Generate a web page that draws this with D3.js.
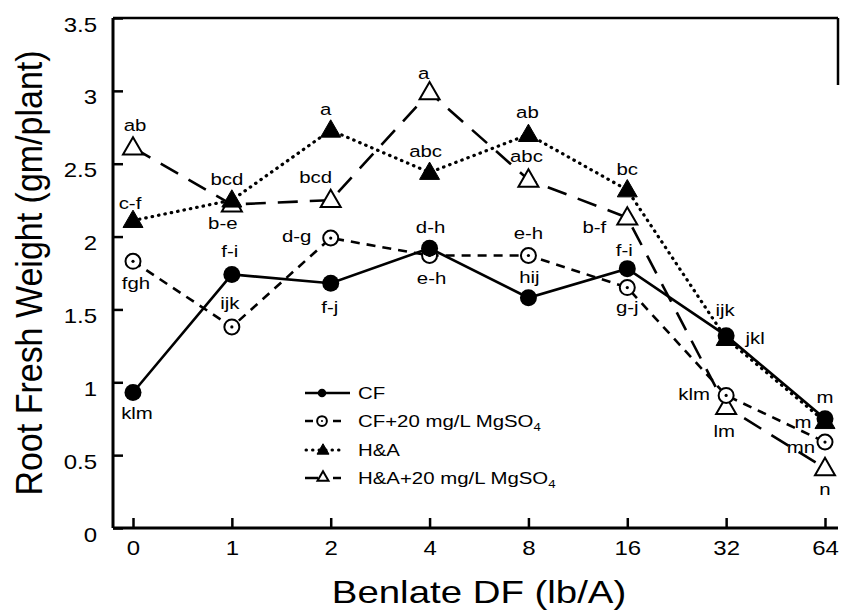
<!DOCTYPE html>
<html><head><meta charset="utf-8">
<script src="https://cdn.jsdelivr.net/npm/d3@7"></script>
<style>
body{margin:0;background:#fff;}
svg{display:block;font-family:"Liberation Sans",Arial,Helvetica,sans-serif;}
</style></head>
<body><svg id="c" width="841" height="615"></svg>
<script>
// ---- data ----
const categories = ["0","1","2","4","8","16","32","64"];
const yTicks = [0,0.5,1,1.5,2,2.5,3,3.5];
const cf      = [0.93,1.74,1.68,1.92,1.58,1.78,1.32,0.75];
const cfMg    = [1.83,1.38,1.99,1.87,1.87,1.65,0.91,0.59];
const ha      = [2.11,2.25,2.73,2.44,2.70,2.32,1.30,0.73];
const haMg    = [2.61,2.22,2.25,2.99,2.39,2.13,0.83,0.41];
const cfLetters   = ["klm","f-i","f-j","d-h","hij","f-i","jkl","m"];
const cfMgLetters = ["fgh","ijk","d-g","e-h","e-h","g-j","klm","mn"];
const haLetters   = ["c-f","bcd","a","abc","ab","bc","ijk","m"];
const haMgLetters = ["ab","b-e","bcd","a","abc","b-f","lm","n"];
const seriesNames = ["CF","CF+20 mg/L MgSO","H&A","H&A+20 mg/L MgSO"];

// ---- label placement (offsets from marker) ----
const cfOff   = [[4,27],[-2,-17],[-1,30],[1,-15],[1,-15],[-3,-13],[29,8],[0,-16]];
const cfMgOff = [[3,28],[-2,-18],[-34,4],[2,28],[0,-17],[0,25],[-32,5],[-24,11]];
const haOff   = [[-3,-12],[-5,-15],[-5,-15],[-4,-15],[-1,-17],[0,-15],[-1,-23],[-22,6]];
const haMgOff = [[2,-17],[-9,24],[-15,-17],[-6,-13],[-2,-18],[-33,15],[-2,30],[0,27]];

const SX = 1.2; // horizontal stretch of the glyphs in the reference
const svg = d3.select("#c");
const L=113, R=838, T=18, B=528;
const x = d3.scalePoint().domain(categories).range([133,825]);
const y = d3.scaleLinear().domain([0,3.5]).range([B,T]);

// frame
svg.append("line").attr("x1",L).attr("x2",R).attr("y1",T).attr("y2",T).attr("stroke","#000").attr("stroke-width",2.5);
svg.append("line").attr("x1",R).attr("x2",R).attr("y1",T).attr("y2",85).attr("stroke","#000").attr("stroke-width",2.5);

// axes
const ya = svg.append("g").attr("transform",`translate(${L},0)`)
  .call(d3.axisLeft(y).tickValues(yTicks).tickFormat(d3.format("")).tickSizeInner(-10).tickSizeOuter(0).tickPadding(16));
const xa = svg.append("g").attr("transform",`translate(0,${B})`)
  .call(d3.axisBottom(x).tickSizeInner(-10).tickSizeOuter(0).tickPadding(13));
[ya,xa].forEach(g=>{
  g.select(".domain").attr("stroke","#000").attr("stroke-width",3);
  g.selectAll(".tick line").attr("stroke","#000").attr("stroke-width",2.5);
  g.selectAll(".tick text").attr("fill","#000").attr("font-size",20).attr("font-family","Liberation Sans, Arial, sans-serif");
});
ya.selectAll(".tick text").attr("dy","0.65em").each(function(){
  const t=d3.select(this); const xx=+t.attr("x")||0;
  t.attr("x",0).attr("transform",`translate(${xx},0) scale(${SX},1)`);
});
xa.selectAll(".tick text").each(function(){
  const t=d3.select(this); const yy=+t.attr("y")||0;
  t.attr("y",0).attr("transform",`translate(0,${yy}) scale(${SX},1)`);
});
ya.select(".domain").attr("d",`M0,${B}V${T}`);
xa.select(".domain").attr("d",`M${L},0H${R}`);

// titles
svg.append("text").attr("x",0).attr("y",0)
  .attr("transform",`translate(42,273) rotate(-90) scale(1,1.08)`)
  .attr("text-anchor","middle").attr("font-size",34).attr("fill","#000")
  .text("Root Fresh Weight (gm/plant)");
svg.append("text").attr("x",0).attr("y",0)
  .attr("transform",`translate(479,603) scale(${SX},1)`)
  .attr("text-anchor","middle").attr("font-size",32).attr("fill","#000")
  .text("Benlate DF (lb/A)");

// series
const series = [
  {vals:cf,   lab:cfLetters,   off:cfOff,   dash:null,     cap:"butt",  w:2.6, mk:"fcircle"},
  {vals:cfMg, lab:cfMgLetters, off:cfMgOff, dash:"9,7",    cap:"butt",  w:2.6, mk:"ocircle"},
  {vals:ha,   lab:haLetters,   off:haOff,   dash:"0.5,6",  cap:"round", w:3.2, mk:"ftri"},
  {vals:haMg, lab:haMgLetters, off:haMgOff, dash:"20,12",  cap:"butt",  w:2.6, mk:"otri"}
];
const line = d3.line().x((d,i)=>x(categories[i])).y(d=>y(d));
series.forEach(s=>{
  svg.append("path").datum(s.vals).attr("d",line).attr("fill","none")
    .attr("stroke","#000").attr("stroke-width",s.w)
    .attr("stroke-dasharray",s.dash).attr("stroke-linecap",s.cap);
});
function tri(cx,cy,side){
  const h=side*Math.sqrt(3)/2;
  return `M${cx},${cy-h*0.6}L${cx+side/2},${cy+h*0.4}L${cx-side/2},${cy+h*0.4}Z`;
}
function marker(g,type,cx,cy,scale){
  scale=scale||1;
  if(type==="fcircle") g.append("circle").attr("cx",cx).attr("cy",cy).attr("r",8.5*scale).attr("fill","#000");
  if(type==="ocircle"){
    g.append("circle").attr("cx",cx).attr("cy",cy).attr("r",7.5*scale).attr("fill","#fff").attr("stroke","#000").attr("stroke-width",2);
    g.append("circle").attr("cx",cx).attr("cy",cy).attr("r",1.6*scale).attr("fill","#000");
  }
  if(type==="ftri") g.append("path").attr("d",tri(cx,cy,20*scale)).attr("fill","#000").attr("stroke","#000").attr("stroke-width",1);
  if(type==="otri") g.append("path").attr("d",tri(cx,cy,20*scale)).attr("fill","#fff").attr("stroke","#000").attr("stroke-width",2);
}
const mg = svg.append("g");
[3,2,1,0].forEach(k=>{
  const s=series[k];
  s.vals.forEach((v,i)=>marker(mg,s.mk,x(categories[i]),y(v)));
});
// letters
const lg = svg.append("g").attr("font-size",17).attr("fill","#000").attr("text-anchor","middle");
series.forEach(s=>{
  s.vals.forEach((v,i)=>{
    lg.append("text").attr("x",0).attr("y",0)
      .attr("transform",`translate(${x(categories[i])+s.off[i][0]},${y(v)+s.off[i][1]}) scale(${SX},1)`)
      .text(s.lab[i]);
  });
});

// legend
const legY=[393,421,450,478];
const leg = svg.append("g");
series.forEach((s,k)=>{
  const yy=legY[k];
  if(k===0){
    leg.append("line").attr("x1",305).attr("x2",350).attr("y1",yy).attr("y2",yy).attr("stroke","#000").attr("stroke-width",2.5);
    marker(leg,"fcircle",322,yy,0.5);
  } else if(k===1){
    leg.append("line").attr("x1",305).attr("x2",313).attr("y1",yy).attr("y2",yy).attr("stroke","#000").attr("stroke-width",2.5);
    leg.append("line").attr("x1",333).attr("x2",341).attr("y1",yy).attr("y2",yy).attr("stroke","#000").attr("stroke-width",2.5);
    marker(leg,"ocircle",322,yy,0.65);
  } else if(k===2){
    leg.append("line").attr("x1",306).attr("x2",345).attr("y1",yy).attr("y2",yy).attr("stroke","#000").attr("stroke-width",3).attr("stroke-dasharray","0.5,6").attr("stroke-linecap","round");
    marker(leg,"ftri",323,yy,0.6);
  } else {
    leg.append("line").attr("x1",305).attr("x2",318).attr("y1",yy).attr("y2",yy).attr("stroke","#000").attr("stroke-width",2.5);
    leg.append("line").attr("x1",333).attr("x2",341).attr("y1",yy).attr("y2",yy).attr("stroke","#000").attr("stroke-width",2.5);
    marker(leg,"otri",323,yy-1,0.55);
  }
  const t=leg.append("text").attr("x",0).attr("y",0)
    .attr("transform",`translate(358,${yy+6}) scale(${SX},1)`)
    .attr("font-size",17).attr("fill","#000");
  t.append("tspan").text(seriesNames[k]);
  if(k===1||k===3) t.append("tspan").attr("font-size",11).attr("dy",4).text("4");
});
</script></body></html>
